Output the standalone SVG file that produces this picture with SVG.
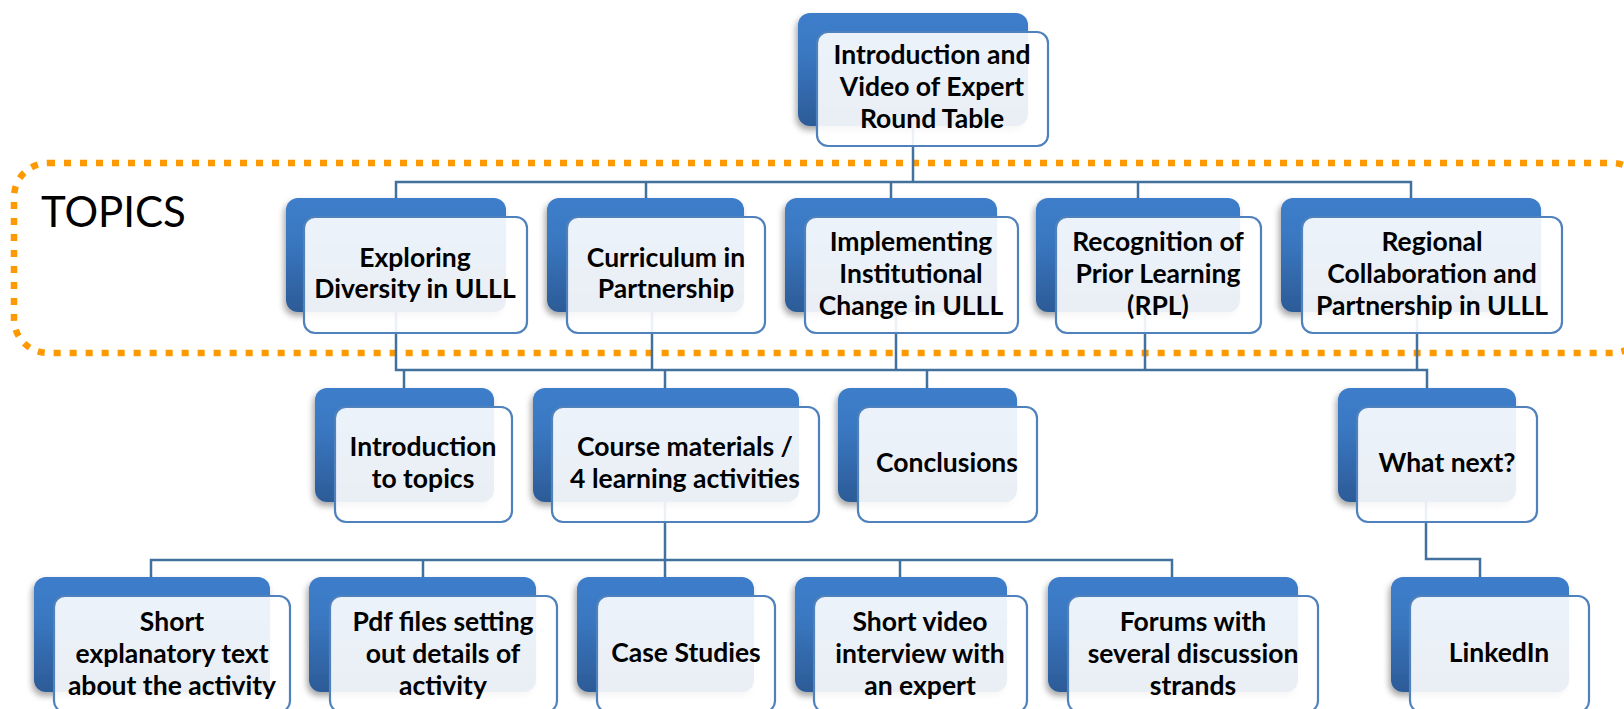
<svg xmlns="http://www.w3.org/2000/svg" width="1624" height="709" viewBox="0 0 1624 709">
<style>
.back{fill:url(#bg);filter:url(#sh)}
.front{fill:#ffffff;fill-opacity:0.9;stroke:#4F81BD;stroke-width:2.2}
.lbl{font-family:Lato,"Liberation Sans",sans-serif;font-weight:bold;font-size:26.5px;fill:#000;text-anchor:middle}
.conn{fill:none;stroke:#41719C;stroke-width:2.5}
.topics{fill:none;stroke:#FF9900;stroke-width:6.5;stroke-dasharray:7 9}
</style>
<defs>
<linearGradient id="bg" x1="0" y1="0" x2="0" y2="1">
<stop offset="0" stop-color="#3D7DCA"/>
<stop offset="0.35" stop-color="#3A78C2"/>
<stop offset="1" stop-color="#2C5B97"/>
</linearGradient>
<filter id="sh" x="-10%" y="-10%" width="120%" height="130%">
<feDropShadow dx="-2" dy="4" stdDeviation="3" flood-color="#000" flood-opacity="0.35"/>
</filter>
</defs>
<rect width="1624" height="709" fill="#ffffff"/>
<rect class="topics" x="14" y="163" width="1632" height="190" rx="34"/>
<text x="41" y="227" font-family="Lato,'Liberation Sans',sans-serif" font-size="42" fill="#000">TOPICS</text>
<g id="connectors">
<path class="conn" d="M913 126 V182 M396 198 V182 H1411 V198 M646 182 V198 M891 182 V198 M1138 182 V198"/>
<path class="conn" d="M396 312 V370 H1427 V388 M652 312 V370 M896 312 V370 M1145 312 V370 M1417 312 V370 M404 370 V388 M665 370 V388 M927 370 V388"/>
<path class="conn" d="M665 502 V560 M151 577 V560 H1172 V577 M423 560 V577 M665 560 V577 M900 560 V577"/>
<path class="conn" d="M1426 502 V559 H1480 V577"/>
</g>
<g id="n-root">
<rect class="back" x="798" y="13" width="230" height="113" rx="12"/>
<rect class="front" x="817" y="32" width="231" height="114" rx="11"/>
<text class="lbl"><tspan x="932" y="64">Introduction and</tspan><tspan x="932" y="96">Video of Expert</tspan><tspan x="932" y="128">Round Table</tspan></text>
</g>
<g id="n-exploring">
<rect class="back" x="286" y="198" width="220" height="114" rx="12"/>
<rect class="front" x="304" y="217" width="223" height="116" rx="11"/>
<text class="lbl"><tspan x="415" y="267">Exploring</tspan><tspan x="415" y="298">Diversity in ULLL</tspan></text>
</g>
<g id="n-curriculum">
<rect class="back" x="547" y="198" width="197" height="114" rx="12"/>
<rect class="front" x="567" y="217" width="198" height="116" rx="11"/>
<text class="lbl"><tspan x="666" y="267">Curriculum in</tspan><tspan x="666" y="298">Partnership</tspan></text>
</g>
<g id="n-implementing">
<rect class="back" x="785" y="198" width="212" height="114" rx="12"/>
<rect class="front" x="805" y="217" width="213" height="116" rx="11"/>
<text class="lbl"><tspan x="911" y="251">Implementing</tspan><tspan x="911" y="283">Institutional</tspan><tspan x="911" y="315">Change in ULLL</tspan></text>
</g>
<g id="n-recognition">
<rect class="back" x="1036" y="198" width="204" height="114" rx="12"/>
<rect class="front" x="1056" y="217" width="205" height="116" rx="11"/>
<text class="lbl"><tspan x="1158" y="251">Recognition of</tspan><tspan x="1158" y="283">Prior Learning</tspan><tspan x="1158" y="315">(RPL)</tspan></text>
</g>
<g id="n-regional">
<rect class="back" x="1281" y="198" width="260" height="114" rx="12"/>
<rect class="front" x="1302" y="217" width="260" height="116" rx="11"/>
<text class="lbl"><tspan x="1432" y="251">Regional</tspan><tspan x="1432" y="283">Collaboration and</tspan><tspan x="1432" y="315">Partnership in ULLL</tspan></text>
</g>
<g id="n-intro">
<rect class="back" x="315" y="388" width="179" height="114" rx="12"/>
<rect class="front" x="335" y="407" width="177" height="115" rx="11"/>
<text class="lbl"><tspan x="423" y="456">Introduction</tspan><tspan x="423" y="488">to topics</tspan></text>
</g>
<g id="n-course">
<rect class="back" x="533" y="388" width="266" height="114" rx="12"/>
<rect class="front" x="552" y="407" width="267" height="115" rx="11"/>
<text class="lbl"><tspan x="685" y="456">Course materials /</tspan><tspan x="685" y="488">4 learning activities</tspan></text>
</g>
<g id="n-conclusions">
<rect class="back" x="838" y="388" width="179" height="114" rx="12"/>
<rect class="front" x="858" y="407" width="179" height="115" rx="11"/>
<text class="lbl" x="947" y="472">Conclusions</text>
</g>
<g id="n-whatnext">
<rect class="back" x="1338" y="388" width="178" height="114" rx="12"/>
<rect class="front" x="1357" y="407" width="180" height="115" rx="11"/>
<text class="lbl" x="1447" y="472">What next?</text>
</g>
<g id="n-short">
<rect class="back" x="34" y="577" width="236" height="115" rx="12"/>
<rect class="front" x="54" y="596" width="236" height="116" rx="11"/>
<text class="lbl"><tspan x="172" y="631">Short</tspan><tspan x="172" y="663">explanatory text</tspan><tspan x="172" y="695">about the activity</tspan></text>
</g>
<g id="n-pdf">
<rect class="back" x="309" y="577" width="227" height="115" rx="12"/>
<rect class="front" x="330" y="596" width="227" height="116" rx="11"/>
<text class="lbl"><tspan x="443" y="631">Pdf files setting</tspan><tspan x="443" y="663">out details of</tspan><tspan x="443" y="695">activity</tspan></text>
</g>
<g id="n-case">
<rect class="back" x="577" y="577" width="177" height="115" rx="12"/>
<rect class="front" x="597" y="596" width="178" height="116" rx="11"/>
<text class="lbl" x="686" y="662">Case Studies</text>
</g>
<g id="n-video">
<rect class="back" x="795" y="577" width="212" height="115" rx="12"/>
<rect class="front" x="814" y="596" width="213" height="116" rx="11"/>
<text class="lbl"><tspan x="920" y="631">Short video</tspan><tspan x="920" y="663">interview with</tspan><tspan x="920" y="695">an expert</tspan></text>
</g>
<g id="n-forums">
<rect class="back" x="1048" y="577" width="250" height="115" rx="12"/>
<rect class="front" x="1068" y="596" width="250" height="116" rx="11"/>
<text class="lbl"><tspan x="1193" y="631">Forums with</tspan><tspan x="1193" y="663">several discussion</tspan><tspan x="1193" y="695">strands</tspan></text>
</g>
<g id="n-linkedin">
<rect class="back" x="1391" y="577" width="178" height="115" rx="12"/>
<rect class="front" x="1410" y="596" width="179" height="116" rx="11"/>
<text class="lbl" x="1499" y="662">LinkedIn</text>
</g>
</svg>
